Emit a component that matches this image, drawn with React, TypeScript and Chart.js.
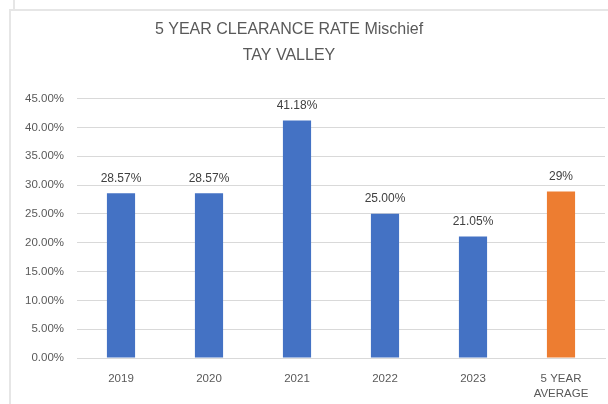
import React, { useEffect, useRef } from "react";
import { Chart, registerables } from "chart.js";

Chart.register(...registerables);

const categories: (string | string[])[] = ["2019", "2020", "2021", "2022", "2023", ["5 YEAR", "AVERAGE"]];
const values = [0.2857, 0.2857, 0.4118, 0.25, 0.2105, 0.2887];
const valueLabels = ["28.57%", "28.57%", "41.18%", "25.00%", "21.05%", "29%"];
const barColors = ["#4472C4", "#4472C4", "#4472C4", "#4472C4", "#4472C4", "#ED7D31"];
const titleLines = ["5 YEAR CLEARANCE RATE Mischief", "TAY VALLEY"];

const FONT = "'Liberation Sans', 'DejaVu Sans', sans-serif";

const labelPlugin = {
  id: "valueLabels",
  afterDatasetsDraw(chart: any) {
    const ctx = chart.ctx;
    const meta = chart.getDatasetMeta(0);
    ctx.save();
    ctx.font = `12px ${FONT}`;
    ctx.fillStyle = "#404040";
    ctx.textAlign = "center";
    ctx.textBaseline = "middle";
    meta.data.forEach((bar: any, i: number) => {
      ctx.fillText(valueLabels[i], bar.x, bar.y - 15);
    });
    ctx.restore();
  },
};

const titlePlugin = {
  id: "offsetTitle",
  afterDraw(chart: any) {
    const ctx = chart.ctx;
    ctx.save();
    ctx.font = `16px ${FONT}`;
    ctx.fillStyle = "#595959";
    ctx.textAlign = "center";
    ctx.textBaseline = "middle";
    titleLines.forEach((line, i) => {
      ctx.fillText(line, 289, 30 + i * 26);
    });
    ctx.restore();
  },
};

export default function App() {
  const ref = useRef<HTMLCanvasElement>(null);
  useEffect(() => {
    if (!ref.current) return;
    const chart = new Chart(ref.current, {
      type: "bar",
      data: {
        labels: categories,
        datasets: [
          {
            data: values,
            backgroundColor: barColors,
            categoryPercentage: 1,
            barPercentage: 0.32,
          },
        ],
      },
      options: {
        animation: false,
        responsive: false,
        layout: { padding: { left: 0, right: 3, top: 98.5, bottom: 5 } },
        plugins: {
          legend: { display: false },
          tooltip: { enabled: false },
          title: { display: false },
        },
        scales: {
          x: {
            afterFit(scale: any) {
              scale.height = 41;
            },
            grid: { display: false, drawTicks: false },
            border: { display: true, color: "#d9d9d9" },
            ticks: {
              color: "#595959",
              font: { family: FONT, size: 11.5, lineHeight: 1.35 },
              padding: 13,
              maxRotation: 0,
              autoSkip: false,
            },
          },
          y: {
            min: 0,
            max: 0.45,
            afterFit(scale: any) {
              scale.width = 77;
            },
            grid: { color: "#d9d9d9", drawTicks: false },
            border: { display: false },
            ticks: {
              stepSize: 0.05,
              color: "#595959",
              font: { family: FONT, size: 11.5 },
              padding: 13,
              callback: (v: any) => (Number(v) * 100).toFixed(2) + "%",
            },
          },
        },
      },
      plugins: [labelPlugin, titlePlugin],
    });
    return () => chart.destroy();
  }, []);

  return (
    <div style={{ position: "absolute", left: 0, top: 0, width: 608, height: 404, background: "#fff", overflow: "hidden" }}>
      <div style={{ position: "absolute", left: 13, top: 0, width: 2, height: 9, background: "#e6e6e6" }} />
      <div style={{ position: "absolute", left: 9, top: 9, width: 599, height: 2, background: "#e6e6e6" }} />
      <div style={{ position: "absolute", left: 9, top: 9, width: 2, height: 395, background: "#e6e6e6" }} />
      <canvas ref={ref} width={608} height={404} style={{ position: "absolute", left: 0, top: 0 }} />
    </div>
  );
}
